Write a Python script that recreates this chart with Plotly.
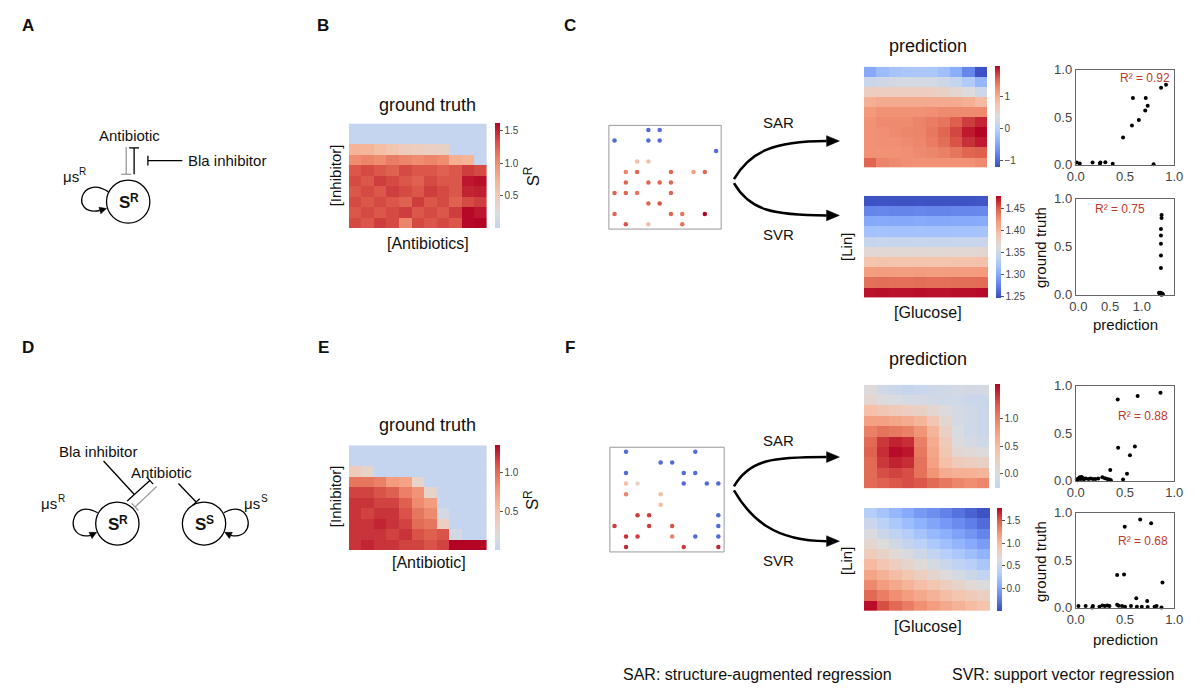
import math
import plotly.graph_objects as go

W, H = 1202, 692

# ------------------------------------------------------------------ data
gt_B = [
    [0.0, 0.0, 0.0, 0.0, 0.0, 0.0, 0.0, 0.0, 0.0, 0.0, 0.0],
    [0.0, 0.0, 0.0, 0.0, 0.0, 0.0, 0.0, 0.0, 0.0, 0.0, 0.0],
    [0.72, 0.70, 0.62, 0.55, 0.48, 0.45, 0.42, 0.40, 0.0, 0.0, 0.0],
    [1.00, 1.05, 1.00, 1.10, 1.05, 1.00, 1.05, 1.00, 0.75, 0.72, 0.0],
    [1.30, 1.35, 1.30, 1.25, 1.35, 1.30, 1.30, 1.25, 1.30, 1.40, 1.35],
    [1.35, 1.30, 1.40, 1.35, 1.30, 1.25, 1.35, 1.30, 1.30, 1.55, 1.58],
    [1.30, 1.35, 1.30, 1.40, 1.35, 1.30, 1.40, 1.35, 1.30, 1.50, 1.52],
    [1.35, 1.30, 1.35, 1.30, 1.25, 1.40, 1.30, 1.35, 1.25, 1.35, 1.40],
    [1.30, 1.35, 1.30, 1.35, 1.40, 1.30, 1.35, 1.30, 1.40, 1.60, 1.55],
    [1.35, 1.30, 1.40, 1.35, 1.05, 1.35, 1.30, 1.35, 1.30, 1.60, 1.62],
]

gt_E = [
    [0.0, 0.0, 0.0, 0.0, 0.0, 0.0, 0.0, 0.0, 0.0, 0.0, 0.0],
    [0.0, 0.0, 0.0, 0.0, 0.0, 0.0, 0.0, 0.0, 0.0, 0.0, 0.0],
    [0.40, 0.30, 0.0, 0.0, 0.0, 0.0, 0.0, 0.0, 0.0, 0.0, 0.0],
    [0.95, 0.95, 0.90, 0.75, 0.70, 0.30, 0.0, 0.0, 0.0, 0.0, 0.0],
    [1.15, 1.15, 1.10, 1.05, 0.90, 0.80, 0.30, 0.0, 0.0, 0.0, 0.0],
    [1.20, 1.20, 1.15, 1.15, 1.05, 0.85, 0.75, 0.0, 0.0, 0.0, 0.0],
    [1.20, 1.15, 1.20, 1.20, 1.10, 0.95, 0.85, 0.10, 0.0, 0.0, 0.0],
    [1.20, 1.20, 1.25, 1.20, 1.15, 1.00, 0.95, 0.35, 0.0, 0.0, 0.0],
    [1.20, 1.20, 1.20, 1.15, 1.20, 1.10, 1.05, 1.10, 0.10, 0.0, 0.0],
    [1.20, 1.25, 1.20, 1.20, 1.15, 1.15, 1.10, 1.15, 1.35, 1.35, 1.35],
]

pred_C_sar = [
    [-0.50, -0.30, -0.20, -0.15, -0.15, -0.15, -0.25, -0.45, -0.80, -1.20],
    [0.15, 0.20, 0.25, 0.25, 0.25, 0.25, 0.20, 0.10, -0.10, -0.35],
    [0.60, 0.60, 0.60, 0.60, 0.60, 0.60, 0.55, 0.45, 0.35, 0.20],
    [0.95, 1.00, 1.00, 1.00, 1.00, 1.00, 1.00, 1.00, 0.95, 0.85],
    [1.15, 1.20, 1.20, 1.20, 1.20, 1.22, 1.25, 1.25, 1.25, 1.25],
    [1.20, 1.25, 1.25, 1.25, 1.30, 1.35, 1.40, 1.55, 1.70, 1.80],
    [1.20, 1.22, 1.25, 1.28, 1.30, 1.38, 1.50, 1.65, 1.85, 1.94],
    [1.20, 1.22, 1.22, 1.25, 1.28, 1.35, 1.45, 1.60, 1.75, 1.85],
    [1.20, 1.20, 1.20, 1.22, 1.25, 1.28, 1.32, 1.40, 1.50, 1.55],
    [1.50, 1.30, 1.25, 1.22, 1.20, 1.20, 1.20, 1.20, 1.20, 1.25],
]

pred_C_svr = [
    [1.250, 1.251, 1.250, 1.250, 1.251, 1.250, 1.250, 1.250, 1.251, 1.252],
    [1.278, 1.279, 1.278, 1.278, 1.279, 1.278, 1.278, 1.279, 1.279, 1.280],
    [1.300, 1.301, 1.300, 1.300, 1.301, 1.300, 1.300, 1.301, 1.301, 1.302],
    [1.320, 1.321, 1.320, 1.320, 1.321, 1.320, 1.320, 1.321, 1.321, 1.322],
    [1.345, 1.346, 1.345, 1.345, 1.346, 1.345, 1.345, 1.346, 1.346, 1.347],
    [1.368, 1.369, 1.368, 1.368, 1.369, 1.368, 1.368, 1.369, 1.369, 1.370],
    [1.392, 1.393, 1.392, 1.392, 1.393, 1.392, 1.392, 1.393, 1.393, 1.394],
    [1.418, 1.419, 1.418, 1.418, 1.419, 1.418, 1.418, 1.419, 1.419, 1.420],
    [1.442, 1.443, 1.442, 1.442, 1.443, 1.442, 1.442, 1.443, 1.443, 1.444],
    [1.475, 1.476, 1.475, 1.475, 1.476, 1.475, 1.475, 1.476, 1.476, 1.477],
]

pred_F_sar = [
    [0.00, -0.15, -0.20, -0.25, -0.22, -0.18, -0.15, -0.10, -0.12, -0.10],
    [0.10, 0.00, -0.05, -0.10, -0.10, -0.12, -0.15, -0.15, -0.20, -0.20],
    [0.45, 0.35, 0.30, 0.25, 0.20, 0.10, 0.00, -0.10, -0.15, -0.20],
    [0.75, 0.75, 0.70, 0.65, 0.55, 0.35, 0.10, -0.10, -0.15, -0.20],
    [1.00, 1.10, 1.05, 1.00, 0.85, 0.55, 0.20, -0.05, -0.15, -0.20],
    [1.15, 1.40, 1.50, 1.45, 1.00, 0.65, 0.30, 0.00, -0.10, -0.15],
    [1.20, 1.45, 1.60, 1.55, 1.05, 0.70, 0.35, 0.10, 0.05, 0.00],
    [1.15, 1.40, 1.50, 1.45, 1.10, 0.75, 0.45, 0.30, 0.25, 0.20],
    [1.15, 1.30, 1.35, 1.30, 1.10, 0.85, 0.65, 0.60, 0.60, 0.55],
    [1.15, 1.20, 1.25, 1.30, 1.25, 1.15, 1.05, 0.95, 0.90, 0.95],
]

pred_F_svr = [
    [0.35, 0.25, 0.15, 0.05, -0.05, -0.12, -0.20, -0.28, -0.36, -0.45],
    [0.50, 0.40, 0.30, 0.20, 0.10, 0.02, -0.06, -0.14, -0.22, -0.32],
    [0.62, 0.52, 0.43, 0.34, 0.25, 0.16, 0.08, -0.01, -0.09, -0.18],
    [0.72, 0.64, 0.56, 0.47, 0.39, 0.30, 0.22, 0.13, 0.05, -0.03],
    [0.85, 0.77, 0.69, 0.61, 0.53, 0.45, 0.37, 0.29, 0.21, 0.12],
    [1.00, 0.91, 0.83, 0.75, 0.67, 0.59, 0.51, 0.43, 0.36, 0.28],
    [1.15, 1.06, 0.98, 0.90, 0.82, 0.74, 0.67, 0.59, 0.52, 0.45],
    [1.30, 1.20, 1.12, 1.04, 0.97, 0.90, 0.83, 0.76, 0.69, 0.62],
    [1.45, 1.35, 1.27, 1.19, 1.12, 1.05, 0.98, 0.92, 0.86, 0.80],
    [1.75, 1.55, 1.45, 1.36, 1.27, 1.19, 1.12, 1.05, 0.99, 0.93],
]

# sampled input points (grid column, grid row, measured value)
inC_col = [3, 4, 0, 3, 4, 9, 2, 3, 1, 2, 5, 7, 8, 1, 3, 4, 5, 0, 1, 2, 5, 3, 4, 0, 5, 6, 8, 1, 3, 6]
inC_row = [0, 0, 1, 1, 1, 2, 3, 3, 4, 4, 4, 4, 4, 5, 5, 5, 5, 6, 6, 6, 6, 7, 7, 8, 8, 8, 8, 9, 9, 9]
inC_val = [-1.0, -1.0, -1.0, -1.0, -1.0, -1.0, 0.8, 0.8, 1.3, 1.5, 1.5, 1.1, 1.5, 1.5, 1.5, 1.5, 1.5,
           1.5, 1.5, 1.4, 1.5, 1.5, 1.6, 1.5, 1.5, 1.4, 1.94, 1.6, 0.8, 1.4]

inF_col = [1, 7, 4, 5, 1, 6, 7, 1, 2, 6, 8, 9, 1, 4, 4, 2, 3, 9, 0, 3, 5, 9, 1, 2, 5, 7, 9, 1, 6, 9]
inF_row = [0, 0, 1, 1, 2, 2, 2, 3, 3, 3, 3, 3, 4, 4, 5, 6, 6, 6, 7, 7, 7, 7, 8, 8, 8, 8, 8, 9, 9, 9]
inF_val = [-1.0, -1.0, -1.0, -1.0, -1.0, -1.0, -1.0, 0.8, 0.5, -1.0, -1.0, -1.0, 1.3, 0.8, 0.8,
           1.7, 1.7, -1.0, 1.7, 1.7, 1.6, -1.0, 1.75, 1.7, 1.3, -1.0, -1.0, 1.8, 1.7, 1.8]

# prediction vs ground truth
C_sar_pred = [0.01, 0.04, 0.17, 0.245, 0.25, 0.30, 0.375, 0.79, 0.48, 0.57, 0.64, 0.58, 0.71, 0.73, 0.705, 0.866, 0.916]
C_sar_true = [0.02, 0.01, 0.02, 0.01, 0.02, 0.025, 0.007, 0.003, 0.285, 0.41, 0.47, 0.70, 0.70, 0.62, 0.57, 0.81, 0.84]

C_svr_pred = [1.31, 1.31, 1.30, 1.30, 1.30, 1.30, 1.30, 1.27, 1.28, 1.29, 1.30, 1.31, 1.32, 1.33, 1.29, 1.31]
C_svr_true = [0.83, 0.80, 0.685, 0.617, 0.53, 0.407, 0.278, 0.02, 0.01, 0.02, 0.01, 0.015, 0.01, 0.005, 0.005, 0.0]

F_sar_pred = [0.426, 0.628, 0.86, 0.43, 0.60, 0.55, 0.35, 0.52, 0.48, 0.01, 0.027, 0.04, 0.06, 0.074, 0.10,
              0.128, 0.15, 0.175, 0.20, 0.228, 0.27, 0.295, 0.32, 0.342, 0.356, 0.017, 0.05, 0.08]
F_sar_true = [0.853, 0.89, 0.925, 0.345, 0.358, 0.266, 0.11, 0.07, 0.01, 0.01, 0.02, 0.034, 0.038, 0.024, 0.02,
              0.017, 0.02, 0.017, 0.017, 0.02, 0.034, 0.024, 0.017, 0.01, 0.003, 0.003, 0.017, 0.014]

F_svr_pred = [0.497, 0.654, 0.765, 0.42, 0.49, 0.88, 0.614, 0.725, 0.027, 0.10, 0.168, 0.174, 0.24, 0.27,
              0.295, 0.32, 0.342, 0.42, 0.436, 0.47, 0.50, 0.56, 0.62, 0.67, 0.73, 0.80, 0.87, 0.82]
F_svr_true = [0.853, 0.93, 0.89, 0.345, 0.35, 0.266, 0.10, 0.07, 0.017, 0.017, 0.003, 0.017, 0.01, 0.024,
              0.017, 0.024, 0.017, 0.03, 0.02, 0.017, 0.01, 0.017, 0.01, 0.01, 0.007, 0.01, 0.003, 0.017]

r2_labels = ["R² = 0.92", "R² = 0.75", "R² = 0.88", "R² = 0.68"]
unit_ticks = [0.0, 0.5, 1.0]
unit_ticktext = ["0.0", "0.5", "1.0"]

# ------------------------------------------------------------------ style helpers
FONT = "Helvetica, Arial, 'Liberation Sans', sans-serif"
CW = [(0.0, (59, 76, 192)), (0.125, (98, 130, 234)), (0.25, (141, 176, 254)), (0.375, (184, 208, 249)),
      (0.5, (221, 220, 220)), (0.625, (245, 196, 173)), (0.75, (244, 154, 123)), (0.875, (222, 96, 77)),
      (1.0, (180, 4, 38))]


def cw(f):
    f = min(max(f, 0.0), 1.0)
    for (f0, c0), (f1, c1) in zip(CW[:-1], CW[1:]):
        if f <= f1:
            t = (f - f0) / (f1 - f0)
            return tuple(round(a + (b - a) * t) for a, b in zip(c0, c1))
    return CW[-1][1]


def cscale(f0, f1, n=17):
    out = []
    for i in range(n):
        t = i / (n - 1)
        c = cw(f0 + (f1 - f0) * t)
        out.append([t, "rgb(%d,%d,%d)" % c])
    return out


fig = go.Figure()
layout = dict()
counter = [1]
shapes = []
annots = []


def px_dom(x0, y0, x1, y1):
    return [x0 / W, x1 / W], [1 - y1 / H, 1 - y0 / H]


def new_axes(box, xr, yr, xextra=None, yextra=None, visible=False):
    counter[0] += 1
    k = counter[0]
    xd, yd = px_dom(*box)
    xa = dict(domain=xd, range=xr, anchor="y%d" % k, fixedrange=True, visible=visible,
              showgrid=False, zeroline=False)
    ya = dict(domain=yd, range=yr, anchor="x%d" % k, fixedrange=True, visible=visible,
              showgrid=False, zeroline=False)
    if xextra:
        xa.update(xextra)
    if yextra:
        ya.update(yextra)
    layout["xaxis%d" % k] = xa
    layout["yaxis%d" % k] = ya
    return "x%d" % k, "y%d" % k


def add_heat(z, box, cs, zmin, zmax, cbox, tickvals, ticktext):
    nr, nc = len(z), len(z[0])
    xa, ya = new_axes(box, [-0.5, nc - 0.5], [nr - 0.5, -0.5])
    cx0, cy0, cx1, cy1 = cbox
    fig.add_trace(go.Heatmap(
        z=z, x=list(range(nc)), y=list(range(nr)), colorscale=cs, zmin=zmin, zmax=zmax,
        xaxis=xa, yaxis=ya, hoverinfo="skip",
        colorbar=dict(x=cx0 / W, xanchor="left", y=1 - cy1 / H, yanchor="bottom",
                      len=(cy1 - cy0) / H, lenmode="fraction", thickness=cx1 - cx0,
                      thicknessmode="pixels", outlinewidth=0, ticks="outside", ticklen=3,
                      tickwidth=1, tickcolor="#555", xpad=0, ypad=0,
                      tickfont=dict(size=10, color="#444", family=FONT),
                      tickvals=tickvals, ticktext=ticktext)))


def add_samples(cols, rows, vals, box, xr, yr):
    xa, ya = new_axes(box, xr, yr)
    shapes.append(dict(type="rect", xref=xa + " domain", yref=ya + " domain", x0=0, x1=1, y0=0, y1=1,
                       line=dict(color="#9a9a9a", width=1), layer="below"))
    fig.add_trace(go.Scatter(x=cols, y=rows, mode="markers", xaxis=xa, yaxis=ya, hoverinfo="skip",
                             showlegend=False,
                             marker=dict(size=4.5, color=vals, colorscale=cscale(0, 1), cmin=-1.23,
                                         cmax=1.94, line=dict(width=0))))


def add_scatter(xs, ys, box, xr):
    common = dict(showline=True, mirror=True, linecolor="#666", linewidth=1, showticklabels=True,
                  ticks="", tickvals=unit_ticks, ticktext=unit_ticktext,
                  tickfont=dict(size=13, color="#444", family=FONT))
    xa, ya = new_axes(box, xr, [0, 1], xextra=dict(common), yextra=dict(common), visible=True)
    fig.add_trace(go.Scatter(x=xs, y=ys, mode="markers", xaxis=xa, yaxis=ya, hoverinfo="skip",
                             showlegend=False, cliponaxis=False,
                             marker=dict(size=4, color="black")))


# ------------------------------------------------------------------ panels
gt_scale = cscale(0.42, 1.0)
add_heat(gt_B, (345, 119, 485, 226), gt_scale, 0.0, 1.62, (493, 119, 498, 226),
         [0.5, 1.0, 1.5], ["0.5", "1.0", "1.5"])
add_heat(gt_E, (345, 448, 485, 555), gt_scale, 0.0, 1.35, (493, 448, 498, 555),
         [0.5, 1.0], ["0.5", "1.0"])

add_heat(pred_C_sar, (868, 61, 993, 164), cscale(0, 1), -1.23, 1.94, (1001, 61, 1006, 164),
         [-1, 0, 1], ["−1", "0", "1"])
add_heat(pred_C_svr, (868, 193, 994, 297), cscale(0, 1), 1.247, 1.479, (1002, 193, 1007, 297),
         [1.25, 1.30, 1.35, 1.40, 1.45], ["1.25", "1.30", "1.35", "1.40", "1.45"])
add_heat(pred_F_sar, (868, 386, 995, 492), cscale(0.417, 1.0), -0.27, 1.63, (1001, 386, 1006, 492),
         [0.0, 0.5, 1.0], ["0.0", "0.5", "1.0"])
add_heat(pred_F_svr, (868, 512, 996, 617), cscale(0, 1), -0.48, 1.78, (1003, 512, 1008, 617),
         [0.0, 0.5, 1.0, 1.5], ["0.0", "0.5", "1.0", "1.5"])

add_samples(inC_col, inC_row, inC_val, (609, 121, 723, 227), [-0.5, 9.45], [9.45, -0.45])
add_samples(inF_col, inF_row, inF_val, (610, 450, 726, 557), [-0.4, 9.5], [9.46, -0.43])

add_scatter(C_sar_pred, C_sar_true, (1083, 64, 1183, 161), [0, 1])
add_scatter(C_svr_pred, C_svr_true, (1083, 196, 1183, 294), [-0.04, 1.51])
add_scatter(F_sar_pred, F_sar_true, (1083, 387, 1183, 484), [0, 1])
add_scatter(F_svr_pred, F_svr_true, (1083, 517, 1183, 614), [0, 1])

# ------------------------------------------------------------------ overlay (pixel space)
layout["xaxis"] = dict(domain=[0, 1], range=[0, W], visible=False, fixedrange=True)
layout["yaxis"] = dict(domain=[0, 1], range=[H, 0], visible=False, fixedrange=True)
fig.add_trace(go.Scatter(x=[0], y=[0], mode="markers", marker=dict(opacity=0), showlegend=False,
                         hoverinfo="skip", xaxis="x", yaxis="y"))


def text(x, y, s, size=15, color="#111", angle=0, bold=False, xanchor="center"):
    annots.append(dict(x=x, y=y, xref="x", yref="y", text=s, showarrow=False, textangle=angle,
                       xanchor=xanchor, yanchor="middle", borderpad=0,
                       font=dict(size=size, color=color, family=FONT,
                                 weight="bold" if bold else "normal")))


def supertext(x, y, base, sup, size=15, bold=False, base_w=10, rotated=False):
    """base text centred at (x, y) with a smaller superscript after it"""
    ssize = round(size * 0.68)
    if not rotated:
        text(x, y, base, size=size, bold=bold)
        text(x + base_w / 2 + ssize * 0.35 + 0.5, y - size * 0.3, sup, size=ssize, bold=bold)
    else:
        text(x, y, base, size=size, bold=bold, angle=-90)
        text(x - size * 0.3, y - base_w / 2 - ssize * 0.35 - 0.5, sup, size=ssize, bold=bold, angle=-90)


def seg(x0, y0, x1, y1, color="black", w=1.3):
    shapes.append(dict(type="line", x0=x0, y0=y0, x1=x1, y1=y1, xref="x", yref="y",
                       line=dict(color=color, width=w)))


def tbar(x0, y0, x1, y1, color="black", w=1.3, half=5):
    seg(x0, y0, x1, y1, color, w)
    dx, dy = x1 - x0, y1 - y0
    L = math.hypot(dx, dy)
    nx, ny = -dy / L, dx / L
    seg(x1 - nx * half, y1 - ny * half, x1 + nx * half, y1 + ny * half, color, w)


def curve(d, color="black", w=1.3):
    shapes.append(dict(type="path", path=d, xref="x", yref="y", line=dict(color=color, width=w)))


def head(tip, frm, size=7, half=3.5, color="black"):
    dx, dy = tip[0] - frm[0], tip[1] - frm[1]
    L = math.hypot(dx, dy)
    ux, uy = dx / L, dy / L
    bx, by = tip[0] - ux * size, tip[1] - uy * size
    nx, ny = -uy, ux
    d = "M %.1f,%.1f L %.1f,%.1f L %.1f,%.1f Z" % (tip[0], tip[1], bx + nx * half, by + ny * half,
                                                   bx - nx * half, by - ny * half)
    shapes.append(dict(type="path", path=d, xref="x", yref="y", fillcolor=color,
                       line=dict(color=color, width=0.5)))


def circle(cx, cy, r):
    shapes.append(dict(type="circle", x0=cx - r, x1=cx + r, y0=cy - r, y1=cy + r, xref="x", yref="y",
                       line=dict(color="black", width=1.3)))


# panel labels
for lab, x, y in [("A", 19, 19), ("B", 319, 19), ("C", 570, 19), ("D", 19, 348), ("E", 319, 348), ("F", 570, 348)]:
    text(x, y, lab, size=17, bold=True)

# diagram A
text(122, 131, "Antibiotic", size=15)
tbar(119, 143, 119, 171, color="#9a9a9a", w=1.3)
tbar(127, 171, 127, 144, color="black", w=1.3)
tbar(176, 157, 141, 157, color="black", w=1.3)
text(181, 157, "Bla inhibitor", size=15, xanchor="left")
circle(121, 199, 22)
supertext(117, 200, "S", "R", size=17, bold=True, base_w=11)
curve("M 101,189 C 72,170 62,214 92,208")
head((99, 206), (92, 208))
supertext(63, 173, "μs", "R", size=15, base_w=16)

# diagram D
text(90, 454, "Bla inhibitor", size=15)
text(155, 476, "Antibiotic", size=15)
tbar(120, 505, 143, 484, color="black", w=1.3)
tbar(150, 490, 128, 511, color="#9a9a9a", w=1.3)
seg(96, 464, 127, 498)
tbar(172, 487, 190, 506, color="black", w=1.3)
circle(110, 528, 22)
circle(198, 528, 22)
supertext(106, 529, "S", "R", size=17, bold=True, base_w=11)
supertext(194, 529, "S", "S", size=17, bold=True, base_w=11)
curve("M 90,517 C 62,500 55,546 83,540")
head((89, 537), (83, 540))
supertext(41, 507, "μs", "R", size=15, base_w=16)
curve("M 218,517 C 246,500 253,546 225,540")
head((219, 537), (225, 540))
supertext(247, 507, "μs", "S", size=15, base_w=16)

# B / E labels
text(425, 100, "ground truth", size=18)
text(425, 427, "ground truth", size=18)
text(331, 172, "[Inhibitor]", size=15, angle=-90)
text(331, 500, "[Inhibitor]", size=15, angle=-90)
text(425, 242, "[Antibiotics]", size=16)
text(426, 568, "[Antibiotic]", size=16)
supertext(532, 178, "S", "R", size=17, base_w=11, rotated=True)
supertext(532, 509, "S", "R", size=17, base_w=11, rotated=True)

# C / F arrows
for (ys, yu, yl) in [(176, 137, 213), (490, 460, 546)]:
    curve("M 736,%d C 752,%d 776,%d 830,%d" % (ys, ys - 28, yu, yu), w=2.5)
    head((843, yu), (830, yu), size=13, half=5.5)
    curve("M 736,%d C 752,%d 776,%d 830,%d" % (ys + 4, ys + 32, yl, yl), w=2.5)
    head((843, yl), (830, yl), size=13, half=5.5)
text(781, 118, "SAR", size=15)
text(781, 233, "SVR", size=15)
text(781, 443, "SAR", size=15)
text(781, 566, "SVR", size=15)

text(933, 40, "prediction", size=18)
text(933, 360, "prediction", size=18)
text(850, 245, "[Lin]", size=15, angle=-90)
text(850, 566, "[Lin]", size=15, angle=-90)
text(933, 312, "[Glucose]", size=16)
text(933, 633, "[Glucose]", size=16)

# scatter labels
RED = "#c0392b"
text(1180, 73, r2_labels[0], size=12, color=RED, xanchor="right")
text(1128, 206, r2_labels[1], size=12, color=RED)
text(1178, 418, r2_labels[2], size=12, color=RED, xanchor="right")
text(1178, 546, r2_labels[3], size=12, color=RED, xanchor="right")
text(1047, 246, "ground truth", size=15, angle=-90)
text(1047, 567, "ground truth", size=15, angle=-90)
text(1133, 325, "prediction", size=15)
text(1133, 647, "prediction", size=15)

# footer
text(760, 682, "SAR: structure-augmented regression", size=16)
text(1070, 682, "SVR: support vector regression", size=16)

layout.update(dict(
    width=W, height=H, margin=dict(l=0, r=0, t=0, b=0), paper_bgcolor="white",
    plot_bgcolor="rgba(0,0,0,0)", showlegend=False, shapes=shapes, annotations=annots,
    font=dict(family=FONT, color="#111"),
))
fig.update_layout(**layout)
fig.write_html("out.html")
